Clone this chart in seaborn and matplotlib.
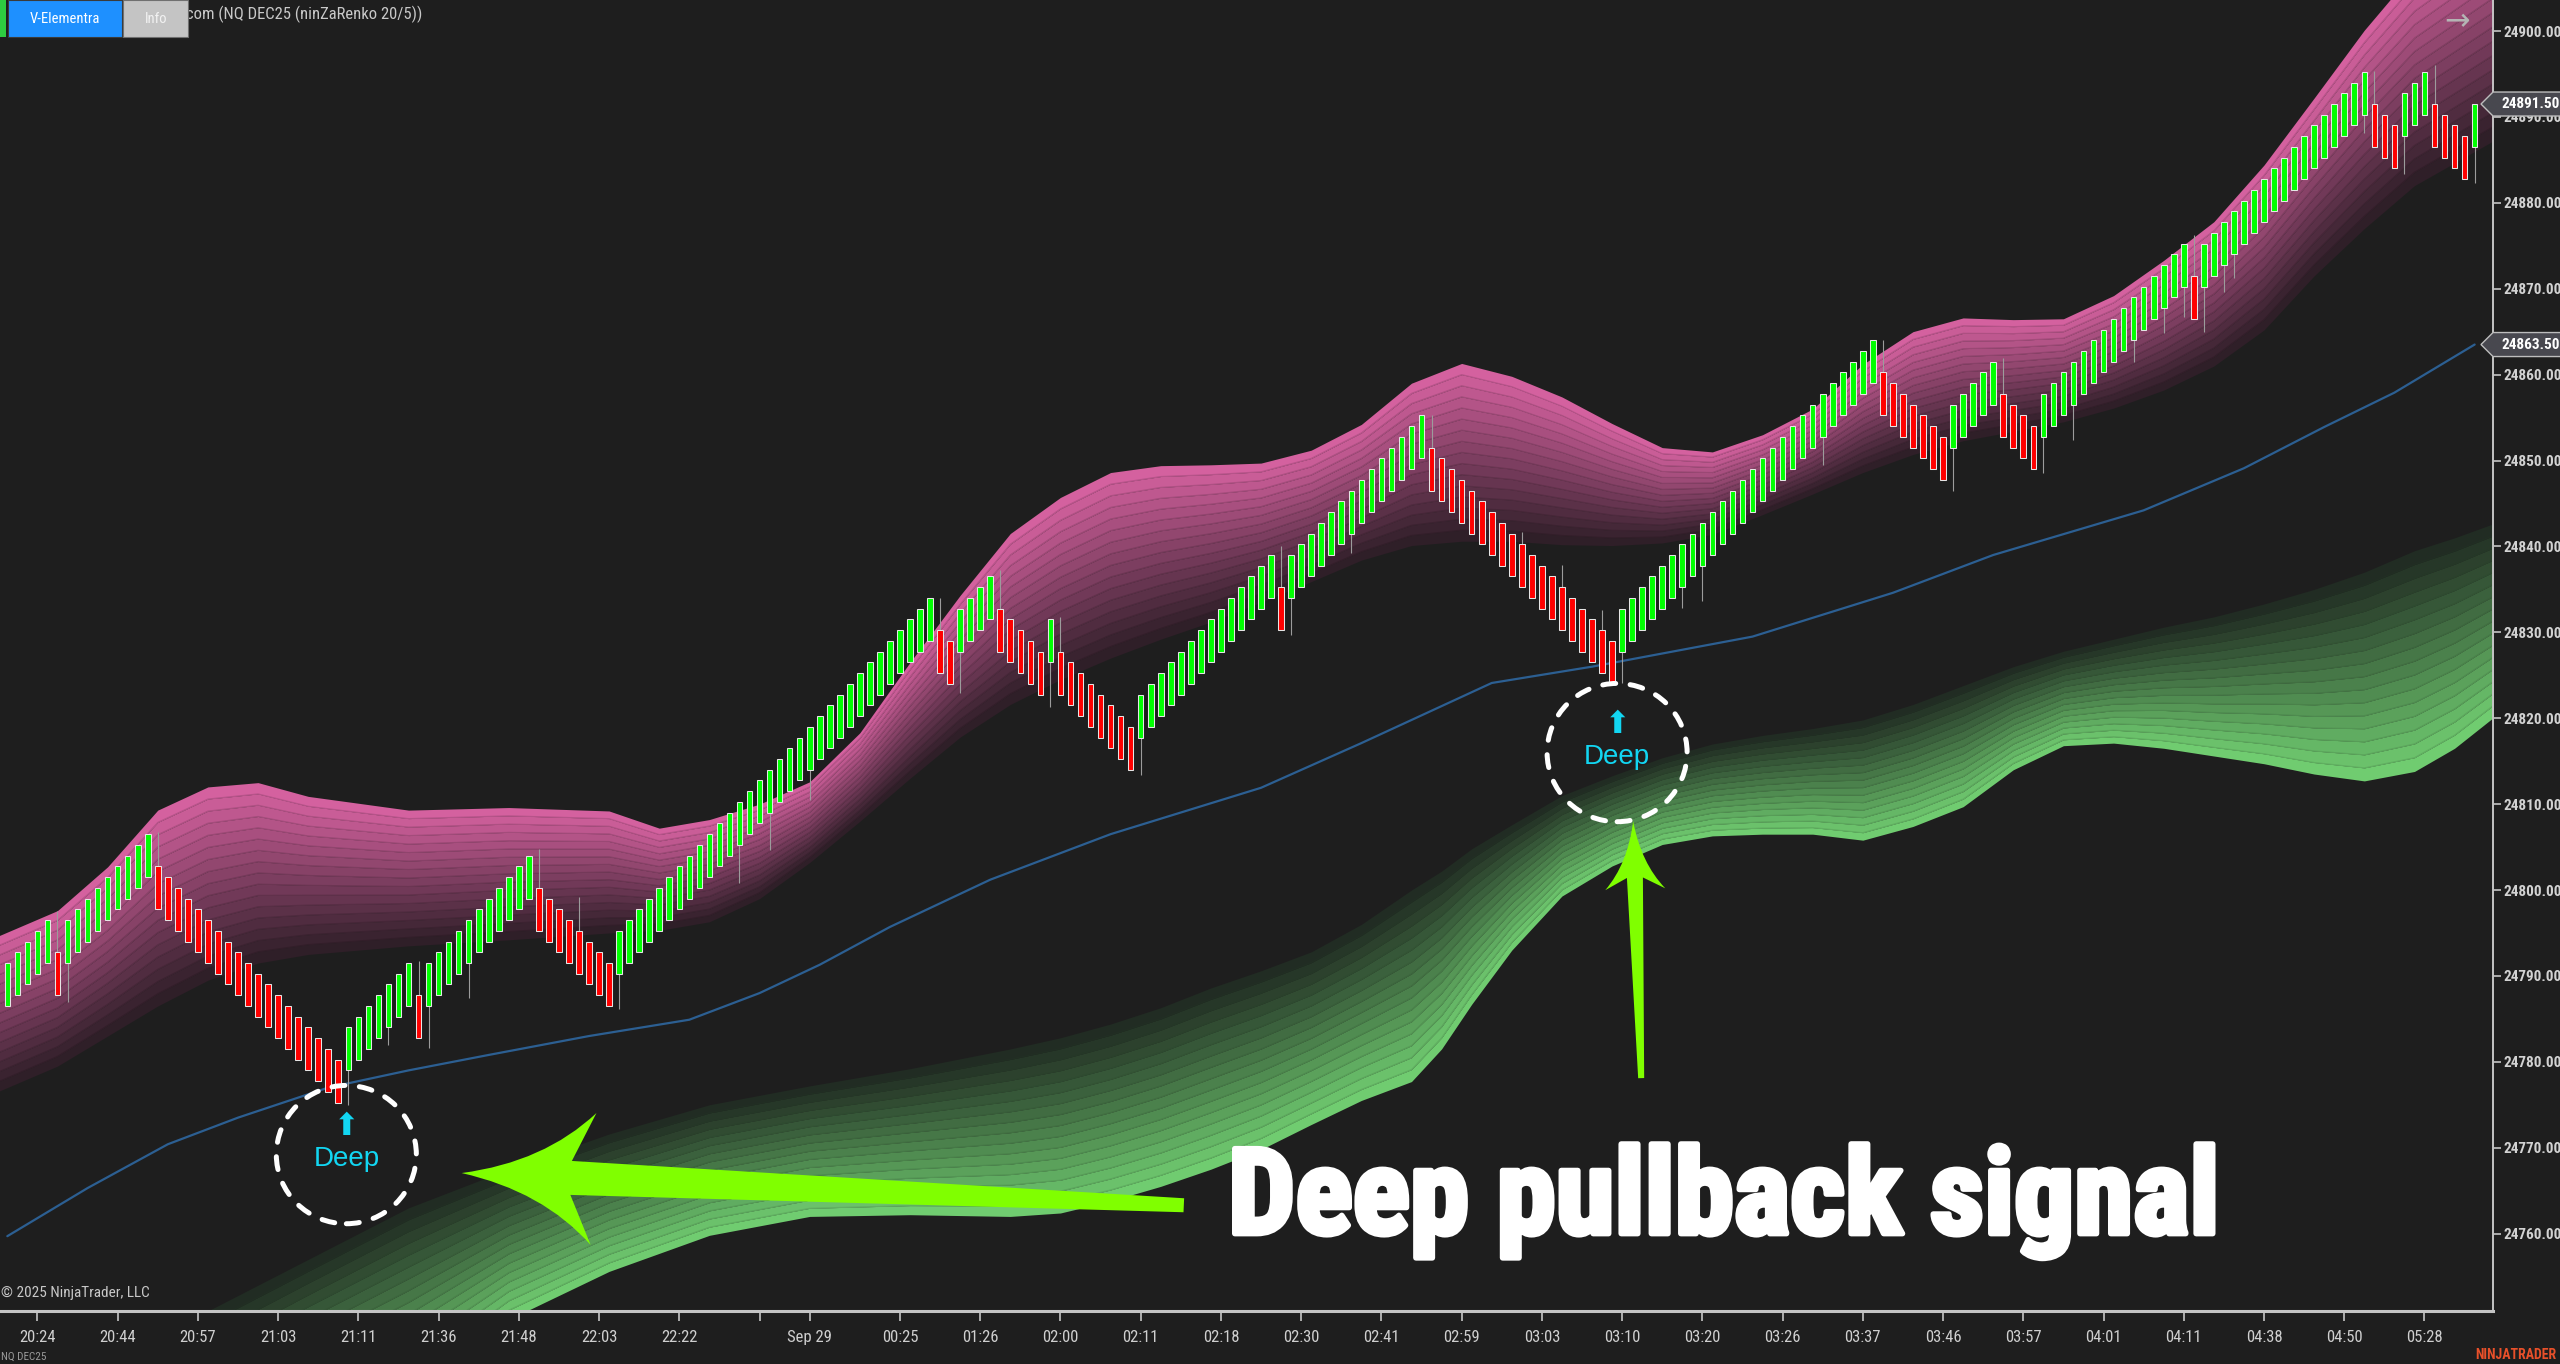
import numpy as np
import pandas as pd
import matplotlib
matplotlib.use("Agg")
import matplotlib.pyplot as plt
import seaborn as sns
from matplotlib import font_manager as fm
from matplotlib.patches import Ellipse, Polygon, PathPatch, Rectangle
from matplotlib.path import Path
import matplotlib.patheffects as pe

# ---------------- data ----------------
# renko brick closes (ninZaRenko 20/5, brick body = 5 points)
brick_close = [
    24791.5, 24792.75, 24794.0, 24795.25, 24796.5,
    24787.75,
    24796.5, 24797.75, 24799.0, 24800.25, 24801.5, 24802.75, 24804.0, 24805.25, 24806.5,
    24797.75, 24796.5, 24795.25, 24794.0, 24792.75, 24791.5, 24790.25, 24789.0, 24787.75, 24786.5,
    24785.25, 24784.0, 24782.75, 24781.5, 24780.25, 24779.0, 24777.75, 24776.5, 24775.25,
    24784.0, 24785.25, 24786.5, 24787.75, 24789.0, 24790.25, 24791.5,
    24782.75,
    24791.5, 24792.75, 24794.0, 24795.25, 24796.5, 24797.75, 24799.0, 24800.25, 24801.5, 24802.75, 24804.0,
    24795.25, 24794.0, 24792.75, 24791.5, 24790.25, 24789.0, 24787.75, 24786.5,
    24795.25, 24796.5, 24797.75, 24799.0, 24800.25, 24801.5, 24802.75, 24804.0, 24805.25, 24806.5,
    24807.75, 24809.0, 24810.25, 24811.5, 24812.75, 24814.0, 24815.25, 24816.5, 24817.75, 24819.0,
    24820.25, 24821.5, 24822.75, 24824.0, 24825.25, 24826.5, 24827.75, 24829.0, 24830.25, 24831.5,
    24832.75, 24834.0,
    24825.25, 24824.0,
    24832.75, 24834.0, 24835.25, 24836.5,
    24827.75, 24826.5, 24825.25, 24824.0, 24822.75,
    24831.5,
    24822.75, 24821.5, 24820.25, 24819.0, 24817.75, 24816.5, 24815.25, 24814.0,
    24822.75, 24824.0, 24825.25, 24826.5, 24827.75, 24829.0, 24830.25, 24831.5, 24832.75, 24834.0,
    24835.25, 24836.5, 24837.75, 24839.0,
    24830.25,
    24839.0, 24840.25, 24841.5, 24842.75, 24844.0, 24845.25, 24846.5, 24847.75, 24849.0, 24850.25,
    24851.5, 24852.75, 24854.0, 24855.25,
    24846.5, 24845.25, 24844.0, 24842.75, 24841.5, 24840.25, 24839.0, 24837.75, 24836.5, 24835.25,
    24834.0, 24832.75, 24831.5, 24830.25, 24829.0, 24827.75, 24826.5, 24825.25, 24824.0,
    24832.75, 24834.0, 24835.25, 24836.5, 24837.75, 24839.0, 24840.25, 24841.5, 24842.75, 24844.0,
    24845.25, 24846.5, 24847.75, 24849.0, 24850.25, 24851.5, 24852.75, 24854.0, 24855.25, 24856.5,
    24857.75, 24859.0, 24860.25, 24861.5, 24862.75, 24864.0,
    24855.25, 24854.0, 24852.75, 24851.5, 24850.25, 24849.0, 24847.75,
    24856.5, 24857.75, 24859.0, 24860.25, 24861.5,
    24852.75, 24851.5, 24850.25, 24849.0,
    24857.75, 24859.0, 24860.25, 24861.5, 24862.75, 24864.0, 24865.25, 24866.5, 24867.75, 24869.0,
    24870.25, 24871.5, 24872.75, 24874.0, 24875.25,
    24866.5,
    24875.25, 24876.5, 24877.75, 24879.0, 24880.25, 24881.5, 24882.75, 24884.0, 24885.25, 24886.5,
    24887.75, 24889.0, 24890.25, 24891.5, 24892.75, 24894.0, 24895.25,
    24886.5, 24885.25, 24884.0,
    24892.75, 24894.0, 24895.25,
    24886.5, 24885.25, 24884.0, 24882.75,
    24891.5,
]
brick_size = 5.0

# wicks: bar index and the extreme price reached
wick_bar = [5, 6, 15, 34, 38, 41, 42, 46, 53, 57, 61, 73, 76, 80, 93, 95,
            99, 104, 105, 113, 127, 128, 134, 142, 151, 155, 159, 161, 167, 169,
            181, 187, 194, 199, 203, 206, 212, 215, 217, 218, 219, 221, 222,
            235, 236, 239, 242, 246]
wick_end = [24797.5, 24787.0, 24806.8, 24775.0, 24782.0, 24791.75, 24781.6, 24787.4,
            24804.8, 24799.15, 24786.2, 24800.8, 24804.65, 24810.5, 24834.0, 24822.9,
            24837.25, 24821.3, 24831.8, 24813.4, 24840.0, 24829.7, 24839.2, 24855.3,
            24841.7, 24837.8, 24832.6, 24824.05, 24832.8, 24833.6, 24849.5, 24864.0,
            24846.4, 24861.9, 24848.6, 24852.4, 24861.5, 24864.8, 24866.7, 24876.25,
            24865.0, 24869.65, 24871.2, 24888.1, 24895.3, 24883.4, 24896.0, 24882.3]

# slow blue moving average
ma_x = [0, 8, 16, 23, 32, 40, 48, 58, 68, 75, 81, 88, 98, 110, 125, 135, 148,
        158, 174, 188, 198, 213, 223, 231, 238, 246]
ma_val = [24759.7, 24765.3, 24770.4, 24773.5, 24777.0, 24779.0, 24780.8, 24783.0,
          24784.9, 24788.0, 24791.3, 24795.7, 24801.2, 24806.5, 24811.9, 24817.1,
          24824.1, 24826.0, 24829.5, 24834.6, 24839.0, 24844.2, 24849.1, 24853.9,
          24857.9, 24863.5]

# upper (pink) ribbon: bright outer edge on top, dark inner edge below
pink_x = [-1, 5, 10, 15, 20, 25, 30, 40, 50, 60, 65, 70, 75, 80, 85, 90, 95, 100,
          105, 110, 115, 120, 125, 130, 135, 140, 145, 150, 155, 160, 165, 170, 175,
          180, 185, 190, 195, 200, 205, 210, 215, 220, 225, 230, 235, 240, 248]
pink_outer = [24794.6, 24797.6, 24802.7, 24809.3, 24812.0, 24812.5, 24810.9, 24809.3,
              24809.6, 24809.2, 24807.2, 24808.2, 24810.0, 24812.6, 24818.3, 24826.5,
              24834.3, 24841.5, 24845.7, 24848.6, 24849.4, 24849.5, 24849.7, 24851.2,
              24854.2, 24859.0, 24861.3, 24859.8, 24857.4, 24854.3, 24851.5, 24851.0,
              24853.0, 24856.0, 24861.2, 24865.0, 24866.6, 24866.4, 24866.5, 24869.2,
              24873.3, 24877.8, 24884.4, 24892.2, 24900.1, 24907.0, 24914.0]
pink_inner = [24776.5, 24779.5, 24783.0, 24786.5, 24789.5, 24791.5, 24792.5, 24793.5,
              24794.2, 24795.0, 24795.3, 24796.3, 24799.0, 24803.2, 24808.0, 24813.0,
              24817.8, 24821.6, 24824.5, 24827.0, 24829.2, 24831.2, 24833.5, 24835.9,
              24838.4, 24840.1, 24840.6, 24840.6, 24840.2, 24840.1, 24840.4, 24841.4,
              24843.7, 24846.1, 24848.6, 24850.7, 24852.3, 24853.4, 24854.5, 24856.1,
              24858.2, 24861.0, 24865.2, 24871.5, 24877.0, 24882.0, 24887.3]

# lower (green) ribbon: bright outer edge at bottom, dark inner edge above
green_x = [10, 20, 30, 40, 50, 60, 70, 80, 90, 100, 105, 110, 115, 120, 125, 130,
           135, 140, 143, 146, 150, 155, 160, 165, 170, 175, 180, 185, 190, 195, 200,
           205, 210, 215, 220, 225, 230, 235, 240, 244, 248]
green_outer = [24720.0, 24728.0, 24735.0, 24741.0, 24750.0, 24755.6, 24759.8, 24762.0,
               24762.2, 24762.0, 24762.4, 24763.8, 24765.5, 24767.5, 24769.8, 24772.7,
               24775.5, 24777.7, 24781.5, 24786.7, 24793.0, 24799.3, 24802.8, 24805.3,
               24806.3, 24806.5, 24806.5, 24805.8, 24807.4, 24809.7, 24814.0, 24816.8,
               24817.1, 24816.5, 24815.6, 24814.7, 24813.5, 24812.7, 24813.8, 24816.5,
               24820.2]
green_inner = [24744.0, 24751.0, 24757.0, 24763.0, 24767.5, 24771.6, 24775.0, 24777.2,
               24779.2, 24781.5, 24782.8, 24784.4, 24786.3, 24788.6, 24790.6, 24792.8,
               24796.0, 24800.0, 24802.2, 24804.8, 24807.6, 24811.0, 24813.3, 24815.4,
               24817.0, 24818.0, 24818.8, 24819.8, 24821.6, 24823.8, 24826.0, 24827.8,
               24829.2, 24830.6, 24831.8, 24833.3, 24835.0, 24837.0, 24839.5, 24841.0,
               24842.7]

price_ticks = [24760, 24770, 24780, 24790, 24800, 24810, 24820, 24830,
               24840, 24850, 24860, 24870, 24880, 24890, 24900]
time_pos = [3, 11, 19, 27, 35, 43, 51, 59, 67, 75, 80, 89, 97, 105, 113, 121, 129,
            137, 145, 153, 161, 169, 177, 185, 193, 201, 209, 217, 225, 233, 241]
time_labels = ['20:24', '20:44', '20:57', '21:03', '21:11', '21:36', '21:48', '22:03',
               '22:22', '', 'Sep 29', '00:25', '01:26', '02:00', '02:11', '02:18',
               '02:30', '02:41', '02:59', '03:03', '03:10', '03:20', '03:26', '03:37',
               '03:46', '03:57', '04:01', '04:11', '04:38', '04:50', '05:28']

last_price = 24891.50
ma_last = 24863.50

# signal annotations (bar index, price)
deep_signals = [(33.8, 24769.2), (160.5, 24816.0)]
callout_arrows = [((45.3, 24767.05), (117.3, 24763.3)),    # tip, tail
                  ((162.1, 24808.0), (162.9, 24778.1))]
callout_text_pos = (121.7, 24760.0)

# ---------------- styling ----------------
BG = '#1e1e1e'
sns.set_theme(style="dark", rc={"axes.facecolor": BG, "figure.facecolor": BG,
                                "axes.grid": False, "axes.edgecolor": "#bdbdbd"})
names = {f.name for f in fm.fontManager.ttflist}
narrow = next((n for n in ['Liberation Sans Narrow', 'DejaVu Sans Condensed',
                           'Roboto Condensed', 'Liberation Sans'] if n in names), 'DejaVu Sans')
plt.rcParams['font.family'] = [narrow, 'DejaVu Sans']

W, H = 2560, 1364
fig = plt.figure(figsize=(W / 100, H / 100), dpi=100)
ax = fig.add_axes([0, 53 / H, 2493 / W, 1311 / H])
ax.set_facecolor(BG)


def fx(x):
    return x / W


def fy(y):
    return 1 - y / H


def rgb(h):
    h = h.lstrip('#')
    return np.array([int(h[i:i + 2], 16) / 255 for i in (0, 2, 4)])


def draw_band(xs, outer, inner, c_out, c_in, n=16):
    xs = np.asarray(xs, float)
    outer = np.asarray(outer, float)
    inner = np.asarray(inner, float)
    co, ci = rgb(c_out), rgb(c_in)
    for k in range(n):
        a = outer + (inner - outer) * k / n
        b = outer + (inner - outer) * (k + 1) / n
        col = co + (ci - co) * (k / (n - 1))
        ax.fill_between(xs, a, b, color=col, lw=0, zorder=1)
        if k < n - 1:
            ax.plot(xs, b, color=col * 0.86, lw=0.8, zorder=1.1)


draw_band(pink_x, pink_outer, pink_inner, '#d4619f', '#2f1f28')
draw_band(green_x, green_outer, green_inner, '#70cc70', '#212c23')

# blue average line
sns.lineplot(x=ma_x, y=ma_val, ax=ax, color='#2c5f92', linewidth=1.6, zorder=2)

# bricks
df = pd.DataFrame({'close': brick_close})
df['idx'] = np.arange(len(df))
up = np.r_[True, np.diff(df['close'].values) > 0]
df['open'] = np.where(up, df['close'] - brick_size, df['close'] + brick_size)
df['low'] = df[['open', 'close']].min(axis=1)
df['high'] = df[['open', 'close']].max(axis=1)

for b, e in zip(wick_bar, wick_end):
    lo, hi = df.loc[b, 'low'], df.loc[b, 'high']
    ax.vlines(b, min(e, lo), max(e, hi), color='#9c9c9c', lw=0.8, zorder=3)

ax.bar(df['idx'], brick_size, bottom=df['low'], width=0.56,
       color=np.where(up, '#00ff00', '#ff0000'), edgecolor='#e6e6e6',
       linewidth=0.75, zorder=4)

# axes
ax.set_xlim(-0.73, 247.83)
ax.set_ylim(24750.99, 24903.61)
ax.set_xlabel('')
ax.set_ylabel('')
for s in ['top', 'left']:
    ax.spines[s].set_visible(False)
ax.spines['bottom'].set_color('#c4c4c4')
ax.spines['bottom'].set_linewidth(2.2)
ax.spines['right'].set_color('#c4c4c4')
ax.spines['right'].set_linewidth(1.4)

ax.yaxis.tick_right()
ax.set_yticks(price_ticks)
ax.set_yticklabels([f'{p:.2f}' for p in price_ticks], fontweight='bold',
                   fontfamily=[narrow, 'DejaVu Sans'])
ax.tick_params(axis='y', right=True, left=False, length=5.5, width=1.2,
               color='#c4c4c4', pad=2, labelsize=11, labelcolor='#d2d2d2')
ax.set_xticks(time_pos)
ax.set_xticklabels(time_labels, fontfamily=[narrow, 'DejaVu Sans'])
ax.tick_params(axis='x', bottom=True, length=7, width=1.2, color='#c4c4c4',
               pad=7, labelsize=12, labelcolor='#cfcfcf', direction='out')

# price tags on the right scale
for p in [last_price, ma_last]:
    yd = H - ax.transData.transform((0, p))[1]
    pts = [(2481, yd), (2493, yd - 12), (2580, yd - 12), (2580, yd + 12), (2493, yd + 12)]
    fig.add_artist(Polygon([(fx(a), fy(b)) for a, b in pts], closed=True,
                           transform=fig.transFigure, facecolor='#48484f',
                           edgecolor='#bdbdbd', lw=1.0, zorder=10))
    fig.text(fx(2501), fy(yd), f'{p:.2f}', color='white', fontsize=11,
             fontweight='bold', va='center', ha='left', zorder=11,
             family=[narrow, 'DejaVu Sans'])

# deep pullback markers
for cx, cy in deep_signals:
    ax.add_patch(Ellipse((cx, cy), width=13.96, height=16.1, fill=False,
                         edgecolor='white', lw=3.6, linestyle=(0, (2.6, 2.9)),
                         capstyle='round', zorder=8))
    ax.annotate('⬆', (cx, cy), xytext=(0, 20), textcoords='offset points',
                ha='center', va='center', color='#12d6f2', fontsize=22,
                family='DejaVu Sans', zorder=9)
    ax.annotate('Deep', (cx, cy), xytext=(0, -3), textcoords='offset points',
                ha='center', va='center', color='#12d6f2', fontsize=20,
                family=['Liberation Sans', 'DejaVu Sans'], zorder=9)


def callout(tip_d, tail_d, head_len, head_half, neck_half, tail_half):
    tip = ax.transData.transform(tip_d)
    tail = ax.transData.transform(tail_d)
    u = tail - tip
    u = u / np.hypot(*u)
    n = np.array([-u[1], u[0]])

    def P(a, b):
        return tip + u * a + n * b

    verts = [P(0, 0), P(head_len * 0.62, head_half * 0.22), P(head_len, head_half),
             P(head_len * 0.83, neck_half), tail + n * tail_half, tail - n * tail_half,
             P(head_len * 0.83, -neck_half), P(head_len, -head_half),
             P(head_len * 0.62, -head_half * 0.22), P(0, 0), P(0, 0)]
    codes = [Path.MOVETO, Path.CURVE3, Path.CURVE3, Path.LINETO, Path.LINETO,
             Path.LINETO, Path.LINETO, Path.LINETO, Path.CURVE3, Path.CURVE3,
             Path.CLOSEPOLY]
    vf = fig.transFigure.inverted().transform(np.array(verts))
    fig.add_artist(PathPatch(Path(vf, codes), transform=fig.transFigure,
                             facecolor='#80ff00', edgecolor='none', zorder=7))


callout(*callout_arrows[0], head_len=132, head_half=66, neck_half=17, tail_half=7)
callout(*callout_arrows[1], head_len=68, head_half=30, neck_half=8, tail_half=3)

big_font = 'Liberation Sans Narrow' if 'Liberation Sans Narrow' in names else narrow
ax.text(*callout_text_pos, 'Deep pullback signal', color='white', fontsize=86,
        fontweight='bold', family=[big_font, 'DejaVu Sans'], ha='left',
        va='baseline', zorder=9,
        path_effects=[pe.withStroke(linewidth=4, foreground='white')])

# chrome: toolbar buttons, title, credits
fig.text(fx(186), fy(14), 'com (NQ DEC25 (ninZaRenko 20/5))', color='#c8c8c8',
         fontsize=12, va='center', ha='left', zorder=10)
fig.add_artist(Rectangle((0, fy(37)), fx(6), 37 / H, transform=fig.transFigure,
                         facecolor='#2ecc40', edgecolor='none', zorder=11))
fig.add_artist(Rectangle((fx(8), fy(37)), fx(114), 37 / H, transform=fig.transFigure,
                         facecolor='#1e90ff', edgecolor='#3a3a3a', lw=0.8, zorder=11))
fig.add_artist(Rectangle((fx(123), fy(37)), fx(65), 37 / H, transform=fig.transFigure,
                         facecolor='#c4c4c4', edgecolor='#707070', lw=0.8, zorder=11))
fig.text(fx(65), fy(19), 'V-Elementra', color='white', fontsize=10.5,
         ha='center', va='center', zorder=12)
fig.text(fx(156), fy(19), 'Info', color='#f2f2f2', fontsize=10.5,
         ha='center', va='center', zorder=12)
fig.text(fx(2457), fy(22), '→', color='#b4b4b4', fontsize=22, ha='center',
         va='center', family='DejaVu Sans', zorder=10)
fig.text(fx(1), fy(1293), '© 2025 NinjaTrader, LLC', color='#c8c8c8', fontsize=11,
         ha='left', va='center', zorder=10)
fig.text(fx(1), fy(1362), 'NQ DEC25', color='#9a9a9a', fontsize=8, ha='left',
         va='bottom', zorder=10)
fig.text(fx(2556), fy(1362), 'NINJATRADER', color='#e8502a', fontsize=10,
         fontweight='bold', ha='right', va='bottom', zorder=10)

fig.savefig('out.png', dpi=100, facecolor=BG)
